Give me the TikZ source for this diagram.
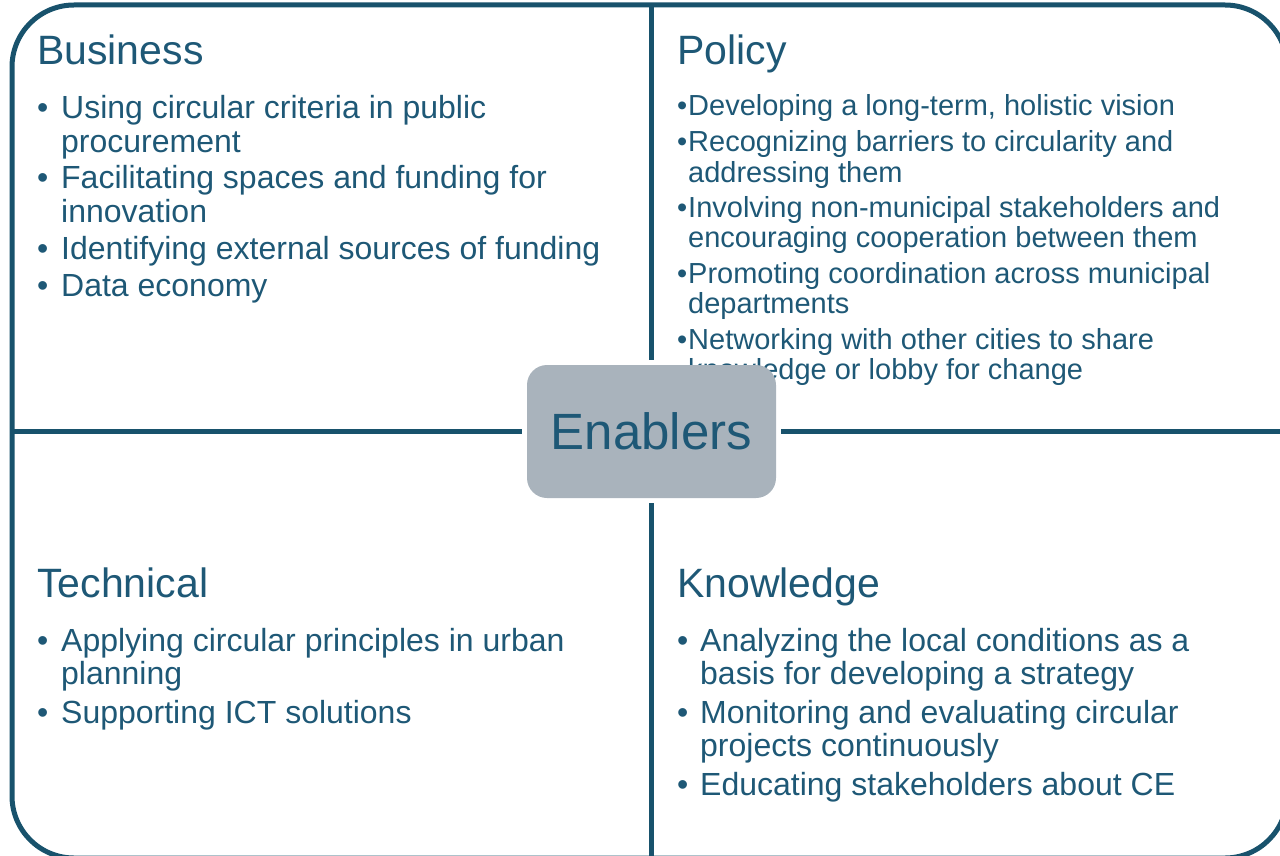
\documentclass[tikz,border=0pt]{standalone}
\usepackage{fontspec}
\setmainfont{Liberation Sans}
\usetikzlibrary{calc}
\definecolor{FrameTeal}{RGB}{24,82,108}
\definecolor{TextTeal}{RGB}{30,88,118}
\definecolor{BoxGrey}{RGB}{169,179,188}
\newcommand{\bul}[2]{\parbox[t]{620pt}{\hangindent=#1\hangafter=1\noindent\makebox[#1][l]{\textbullet}#2}}

\begin{document}
\begin{tikzpicture}[x=1pt,y=-1pt,
  heading/.style={anchor=base west,inner sep=0pt,text=TextTeal,font=\fontsize{41}{44}\selectfont},
  bigitem/.style={anchor=base west,inner sep=0pt,text=TextTeal,font=\fontsize{32}{33.5}\selectfont},
  smallitem/.style={anchor=base west,inner sep=0pt,text=TextTeal,font=\fontsize{29}{30.5}\selectfont},
  divider/.style={draw=FrameTeal,line width=5pt,shorten >=5pt}]
  \useasboundingbox (0,0) rectangle (1280,856);
  \clip (0,0) rectangle (1280,856);
  \draw[FrameTeal,line width=5pt,rounded corners=62pt] (12,5) rectangle (1287,858);
  \coordinate (ftop) at (651.5,5);
  \coordinate (fbot) at (651.5,858);
  \coordinate (fleft) at (12,431.5);
  \coordinate (fright) at (1287,431.5);

  % Business
  \node[heading] (bus) at (37,65) {Business};
  \node[bigitem] (bus1) at (37,119) {\bul{24pt}{Using circular criteria in public\\procurement}};
  \node[bigitem] (bus2) at (37,189) {\bul{24pt}{Facilitating spaces and funding for\\innovation}};
  \node[bigitem] (bus3) at (37,259) {\bul{24pt}{Identifying external sources of funding}};
  \node[bigitem] (bus4) at (37,296) {\bul{24pt}{Data economy}};

  % Policy
  \node[heading] (pol) at (677,65) {Policy};
  \node[smallitem] (pol1) at (677,116) {\bul{11pt}{Developing a long-term, holistic vision}};
  \node[smallitem] (pol2) at (677,152) {\bul{11pt}{Recognizing barriers to circularity and\\addressing them}};
  \node[smallitem] (pol3) at (677,217) {\bul{11pt}{Involving non-municipal stakeholders and\\encouraging cooperation between them}};
  \node[smallitem] (pol4) at (677,283) {\bul{11pt}{Promoting coordination across municipal\\departments}};
  \node[smallitem] (pol5) at (677,349) {\bul{11pt}{Networking with other cities to share\\knowledge or lobby for change}};

  % Technical
  \node[heading] (tec) at (37,597) {Technical};
  \node[bigitem] (tec1) at (37,651) {\bul{24pt}{Applying circular principles in urban\\planning}};
  \node[bigitem] (tec2) at (37,723) {\bul{24pt}{Supporting ICT solutions}};

  % Knowledge
  \node[heading] (kno) at (677,597) {Knowledge};
  \node[bigitem] (kno1) at (677,651) {\bul{23pt}{Analyzing the local conditions as a\\basis for developing a strategy}};
  \node[bigitem] (kno2) at (677,723) {\bul{23pt}{Monitoring and evaluating circular\\projects continuously}};
  \node[bigitem] (kno3) at (677,795) {\bul{23pt}{Educating stakeholders about CE}};

  % centre box and dividers
  \node[fill=BoxGrey,rounded corners=20pt,minimum width=249pt,minimum height=133pt,inner sep=0pt,
        text=TextTeal,font=\fontsize{51}{51}\selectfont] (enab) at (651.5,431.5) {Enablers};
  \draw[divider] (ftop) -- (enab.north);
  \draw[divider] (fbot) -- (enab.south);
  \draw[divider] (fleft) -- (enab.west);
  \draw[divider] (fright) -- (enab.east);
\end{tikzpicture}
\end{document}
